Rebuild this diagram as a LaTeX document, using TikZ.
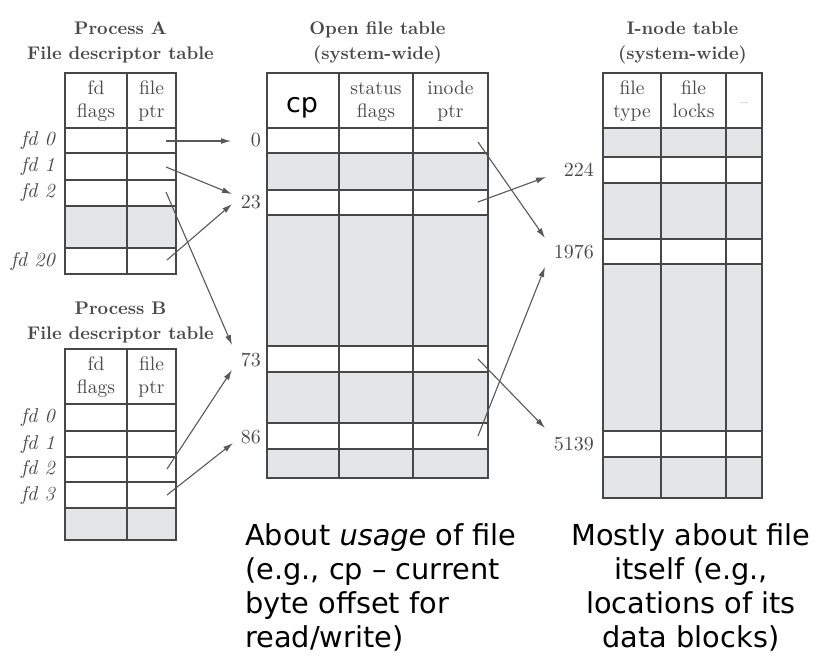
\documentclass[tikz,border=0pt]{standalone}
\usepackage{fontspec}
\usetikzlibrary{arrows.meta}
\newfontfamily\verd{DejaVu Sans}
\newfontfamily\lmten{lmroman10-regular.otf}[BoldFont=lmroman10-bold.otf, ItalicFont=lmroman10-italic.otf]
\definecolor{shadecol}{HTML}{E4E5E7}
\definecolor{rulecol}{HTML}{474747}
\definecolor{txtcol}{HTML}{4A4A4A}
\definecolor{arrcol}{HTML}{585858}
\tikzset{
  outerline/.style={draw=rulecol, line width=1.9pt},
  innerline/.style={draw=rulecol, line width=1.1pt},
  shaded/.style={fill=shadecol},
  ttl/.style={anchor=north, align=center, inner sep=0pt, text=txtcol, font=\lmten\fontsize{18.3}{25}\selectfont\bfseries},
  hdr/.style={anchor=north, align=center, inner sep=0pt, text=txtcol, font=\lmten\fontsize{19.5}{23}\selectfont},
  fdlbl/.style={anchor=east, inner sep=0pt, text=txtcol, font=\lmten\fontsize{20}{20}\selectfont\itshape},
  numlbl/.style={anchor=east, inner sep=0pt, text=txtcol, font=\lmten\fontsize{20}{20}\selectfont},
  ptr/.style={draw=arrcol, line width=1.1pt, -{Latex[length=10pt,width=6pt]}},
  note/.style={anchor=north, inner sep=0pt, text=black, font=\verd\fontsize{28.8}{34}\selectfont}
}
\begin{document}
\begin{tikzpicture}[x=1pt,y=-1pt]
\useasboundingbox (0,0) rectangle (834,664);

% ---------- Process A table ----------
\node[ttl] (tA) at (120.5,21.3) {Process A\\File descriptor table};
\fill[shaded] (65,206) rectangle (176,248);
\draw[innerline] (127,73) -- (127,274);
\foreach \yy in {153,180,206,248} \draw[innerline] (65,\yy) -- (176,\yy);
\draw[outerline] (65,128) -- (176,128);
\draw[outerline] (65,73) rectangle (176,274);
\node[hdr] (hA1) at (96,79.5) {\vphantom{(}fd\\flags};
\node[hdr] (hA2) at (151.5,79.5) {\vphantom{(}file\\ptr};
\node[fdlbl] (a0) at (55,140.5) {fd 0};
\node[fdlbl] (a1) at (55,166.5) {fd 1};
\node[fdlbl] (a2) at (55,192) {fd 2};
\node[fdlbl] (a20) at (55,261) {fd 20};

% ---------- Process B table ----------
\node[ttl] (tB) at (120.5,301.3) {Process B\\File descriptor table};
\fill[shaded] (65,508) rectangle (176,540);
\draw[innerline] (127,349) -- (127,540);
\foreach \yy in {431,457,482,508} \draw[innerline] (65,\yy) -- (176,\yy);
\draw[outerline] (65,404) -- (176,404);
\draw[outerline] (65,349) rectangle (176,540);
\node[hdr] (hB1) at (96,355.5) {\vphantom{(}fd\\flags};
\node[hdr] (hB2) at (151.5,355.5) {\vphantom{(}file\\ptr};
\node[fdlbl] (b0) at (55,417.5) {fd 0};
\node[fdlbl] (b1) at (55,444) {fd 1};
\node[fdlbl] (b2) at (55,469.5) {fd 2};
\node[fdlbl] (b3) at (55,495) {fd 3};

% ---------- Open file table ----------
\node[ttl] (tO) at (377.5,21.3) {Open file table\\(system-wide)};
\fill[shaded] (267,153) rectangle (488,190);
\fill[shaded] (267,215) rectangle (488,346);
\fill[shaded] (267,372) rectangle (488,423);
\fill[shaded] (267,449) rectangle (488,478);
\draw[innerline] (339,73) -- (339,478);
\draw[innerline] (413,73) -- (413,478);
\foreach \yy in {153,190,215,346,372,423,449} \draw[innerline] (267,\yy) -- (488,\yy);
\draw[outerline] (267,128) -- (488,128);
\draw[outerline] (267,73) rectangle (488,478);
\node[anchor=base, inner sep=0pt, font=\verd\fontsize{27}{27}\selectfont] (cp) at (302,112) {cp};
\node[hdr] (hO2) at (376,79.5) {\vphantom{(}status\\flags};
\node[hdr] (hO3) at (450.5,79.5) {\vphantom{(}inode\\ptr};
\node[numlbl] (n0) at (261,140.5) {0};
\node[numlbl] (n23) at (261,202.5) {23};
\node[numlbl] (n73) at (261,359.5) {73};
\node[numlbl] (n86) at (261,437) {86};

% ---------- I-node table ----------
\node[ttl] (tI) at (682.5,21.3) {I-node table\\(system-wide)};
\fill[shaded] (603,128) rectangle (762,157);
\fill[shaded] (603,183) rectangle (762,239);
\fill[shaded] (603,264) rectangle (762,431);
\fill[shaded] (603,457) rectangle (762,498);
\draw[innerline] (661,73) -- (661,498);
\draw[innerline] (726,73) -- (726,498);
\foreach \yy in {157,183,239,264,431,457} \draw[innerline] (603,\yy) -- (762,\yy);
\draw[outerline] (603,128) -- (762,128);
\draw[outerline] (603,73) rectangle (762,498);
\node[hdr] (hI1) at (632,79.5) {\vphantom{(}file\\type};
\node[hdr] (hI2) at (693.5,79.5) {\vphantom{(}file\\locks};
\node[inner sep=0pt, text=txtcol, font=\lmten\fontsize{9}{9}\selectfont] (hI3) at (744,103) {...};
\node[numlbl] (i224) at (594,170) {224};
\node[numlbl] (i1976) at (594,251.5) {1976};
\node[numlbl] (i5139) at (594,444) {5139};

% ---------- pointer coordinates ----------
\coordinate (sA0) at (166,141);
\coordinate (sA1) at (166,167);
\coordinate (sA2) at (166,192);
\coordinate (sA20) at (167,260);
\coordinate (sB2) at (167,469);
\coordinate (sB3) at (167,495);
\coordinate (sO0) at (478,142);
\coordinate (sO23) at (478,202);
\coordinate (sO73) at (478,359);
\coordinate (sO86) at (478,436);
\coordinate (e0) at (231,141);
\coordinate (e23a) at (232,194);
\coordinate (e23b) at (232,204);
\coordinate (e73a) at (232,345);
\coordinate (e73b) at (232,370);
\coordinate (e86) at (233,443);
\coordinate (e224) at (546,177);
\coordinate (e1976a) at (545,238);
\coordinate (e1976b) at (545,267);
\coordinate (e5139) at (545,428);

\draw[ptr] (sA0) -- (e0);
\draw[ptr] (sA1) -- (e23a);
\draw[ptr] (sA20) -- (e23b);
\draw[ptr] (sA2) -- (e73a);
\draw[ptr] (sB2) -- (e73b);
\draw[ptr] (sB3) -- (e86);
\draw[ptr] (sO0) -- (e1976a);
\draw[ptr] (sO23) -- (e224);
\draw[ptr] (sO73) -- (e5139);
\draw[ptr] (sO86) -- (e1976b);

% ---------- notes ----------
\node[note, anchor=north west, align=left] (noteL) at (245,523.3)
  {About \textit{usage} of file\\(e.g., cp – current\\byte offset for\\read/write)};
\node[note, align=center] (noteR) at (691,523.3)
  {Mostly about file\\itself (e.g.,\\locations of its\\data blocks)};
\end{tikzpicture}
\end{document}
